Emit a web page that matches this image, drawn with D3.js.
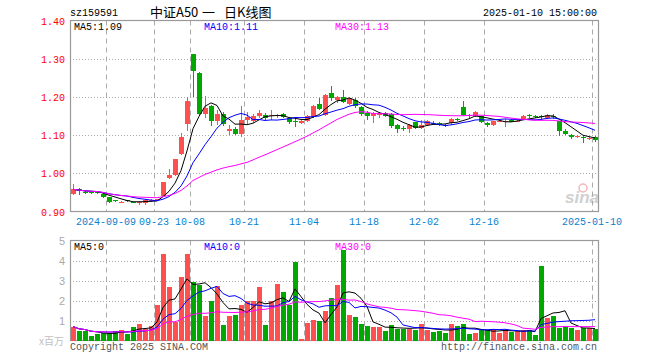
<!DOCTYPE html>
<html>
<head>
<meta charset="utf-8">
<script src="https://cdn.jsdelivr.net/npm/d3@7"></script>
<style>
  body { margin: 0; background: #fff; }
  svg text { font-family: "Liberation Mono", "DejaVu Sans Mono", monospace; }
</style>
</head>
<body>
<div id="chart"></div>
<script>
// trading days shown (one candle each)
const DATES = [
  "2024-08-30", "2024-09-02", "2024-09-03", "2024-09-04", "2024-09-05", "2024-09-06",
  "2024-09-09", "2024-09-10", "2024-09-11", "2024-09-12", "2024-09-13", "2024-09-18",
  "2024-09-19", "2024-09-20", "2024-09-23", "2024-09-24", "2024-09-25", "2024-09-26",
  "2024-09-27", "2024-09-30", "2024-10-08", "2024-10-09", "2024-10-10", "2024-10-11",
  "2024-10-14", "2024-10-15", "2024-10-16", "2024-10-17", "2024-10-18", "2024-10-21",
  "2024-10-22", "2024-10-23", "2024-10-24", "2024-10-25", "2024-10-28", "2024-10-29",
  "2024-10-30", "2024-10-31", "2024-11-01", "2024-11-04", "2024-11-05", "2024-11-06",
  "2024-11-07", "2024-11-08", "2024-11-11", "2024-11-12", "2024-11-13", "2024-11-14",
  "2024-11-15", "2024-11-18", "2024-11-19", "2024-11-20", "2024-11-21", "2024-11-22",
  "2024-11-25", "2024-11-26", "2024-11-27", "2024-11-28", "2024-11-29", "2024-12-02",
  "2024-12-03", "2024-12-04", "2024-12-05", "2024-12-06", "2024-12-09", "2024-12-10",
  "2024-12-11", "2024-12-12", "2024-12-13", "2024-12-16", "2024-12-17", "2024-12-18",
  "2024-12-19", "2024-12-20", "2024-12-23", "2024-12-24", "2024-12-25", "2024-12-26",
  "2024-12-27", "2024-12-30", "2024-12-31", "2025-01-02", "2025-01-03", "2025-01-06",
  "2025-01-07", "2025-01-08", "2025-01-09", "2025-01-10",
];

const OPEN = [
  0.945, 0.960, 0.952, 0.951, 0.951, 0.947, 0.937, 0.929, 0.924, 0.929, 0.924, 0.922,
  0.921, 0.927, 0.930, 0.941, 0.989, 0.996, 1.051, 1.130, 1.311, 1.263, 1.155, 1.175,
  1.138, 1.155, 1.112, 1.117, 1.103, 1.140, 1.137, 1.149, 1.153, 1.150, 1.150, 1.155,
  1.145, 1.137, 1.132, 1.136, 1.147, 1.182, 1.153, 1.210, 1.191, 1.200, 1.182, 1.193,
  1.174, 1.159, 1.149, 1.153, 1.157, 1.155, 1.127, 1.118, 1.115, 1.133, 1.118, 1.127,
  1.132, 1.132, 1.126, 1.131, 1.143, 1.173, 1.152, 1.149, 1.149, 1.132, 1.127, 1.136,
  1.137, 1.140, 1.138, 1.143, 1.152, 1.151, 1.150, 1.145, 1.150, 1.136, 1.112, 1.101,
  1.097, 1.094, 1.091, 1.094,
];
const HIGH = [
  0.971, 0.961, 0.954, 0.953, 0.954, 0.949, 0.938, 0.931, 0.928, 0.931, 0.926, 0.927,
  0.932, 0.932, 0.934, 0.978, 1.010, 1.038, 1.105, 1.199, 1.312, 1.265, 1.203, 1.178,
  1.165, 1.160, 1.127, 1.122, 1.177, 1.160, 1.154, 1.167, 1.157, 1.167, 1.156, 1.158,
  1.147, 1.145, 1.140, 1.153, 1.179, 1.197, 1.208, 1.228, 1.203, 1.219, 1.199, 1.196,
  1.176, 1.162, 1.160, 1.161, 1.160, 1.157, 1.130, 1.125, 1.130, 1.135, 1.140, 1.139,
  1.136, 1.134, 1.129, 1.146, 1.146, 1.189, 1.155, 1.162, 1.151, 1.134, 1.138, 1.141,
  1.141, 1.142, 1.140, 1.153, 1.154, 1.153, 1.152, 1.156, 1.155, 1.138, 1.115, 1.104,
  1.100, 1.097, 1.096, 1.098,
];
const LOW = [
  0.942, 0.944, 0.946, 0.946, 0.946, 0.935, 0.922, 0.924, 0.921, 0.925, 0.921, 0.917,
  0.917, 0.924, 0.927, 0.940, 0.985, 0.994, 1.048, 1.112, 1.201, 1.152, 1.146, 1.123,
  1.127, 1.124, 1.101, 1.100, 1.095, 1.130, 1.132, 1.144, 1.140, 1.140, 1.146, 1.144,
  1.130, 1.122, 1.128, 1.133, 1.145, 1.165, 1.150, 1.190, 1.183, 1.183, 1.180, 1.172,
  1.150, 1.140, 1.132, 1.145, 1.148, 1.118, 1.106, 1.110, 1.105, 1.116, 1.115, 1.125,
  1.128, 1.124, 1.120, 1.126, 1.137, 1.151, 1.146, 1.147, 1.131, 1.122, 1.123, 1.133,
  1.120, 1.133, 1.135, 1.141, 1.146, 1.146, 1.140, 1.143, 1.143, 1.098, 1.100, 1.090,
  1.093, 1.079, 1.087, 1.082,
];
const CLOSE = [
  0.958, 0.954, 0.950, 0.950, 0.949, 0.938, 0.926, 0.927, 0.926, 0.927, 0.922, 0.925,
  0.930, 0.929, 0.932, 0.978, 0.995, 1.037, 1.094, 1.190, 1.268, 1.155, 1.171, 1.138,
  1.156, 1.130, 1.115, 1.104, 1.140, 1.147, 1.150, 1.158, 1.145, 1.152, 1.152, 1.147,
  1.134, 1.135, 1.137, 1.151, 1.177, 1.168, 1.206, 1.197, 1.201, 1.186, 1.197, 1.176,
  1.156, 1.149, 1.157, 1.158, 1.151, 1.125, 1.116, 1.117, 1.127, 1.119, 1.127, 1.136,
  1.131, 1.127, 1.125, 1.143, 1.142, 1.153, 1.151, 1.160, 1.135, 1.127, 1.136, 1.138,
  1.138, 1.134, 1.138, 1.151, 1.151, 1.150, 1.148, 1.153, 1.149, 1.110, 1.103, 1.094,
  1.098, 1.093, 1.092, 1.086,
];
// volume, millions
const VOLUME = [
  0.70, 0.47, 0.47, 0.22, 0.32, 0.40, 0.38, 0.47, 0.55, 0.32, 0.67, 0.85,
  0.60, 0.72, 1.77, 4.31, 2.68, 0.92, 3.18, 4.31, 2.92, 2.80, 1.22, 1.98,
  2.72, 0.77, 1.22, 1.30, 1.77, 1.98, 1.98, 2.67, 0.77, 1.98, 2.82, 2.42,
  1.77, 3.92, 0.05, 0.88, 1.02, 0.98, 1.48, 2.13, 2.77, 4.52, 1.27, 1.17,
  0.82, 0.72, 0.67, 0.67, 0.47, 0.77, 0.60, 0.60, 0.60, 0.52, 0.85, 0.52,
  0.42, 0.47, 0.37, 0.82, 0.72, 0.85, 0.32, 0.37, 0.52, 0.52, 0.60, 0.37,
  0.52, 0.42, 0.47, 0.52, 0.52, 0.27, 3.72, 1.15, 1.22, 0.65, 0.70, 0.65,
  0.52, 0.62, 0.62, 0.57,
];

const TICK_DATES = [
  "2024-09-09", "2024-09-23", "2024-10-08", "2024-10-21", "2024-11-04",
  "2024-11-18", "2024-12-02", "2024-12-16", "2025-01-10",
];
const TICK_LABELS = [
  "2024-09-09", "09-23", "10-08", "10-21", "11-04", "11-18", "12-02", "12-16", "2025-01-10",
];
const PRICE_TICKS = [0.9, 1.0, 1.1, 1.2, 1.3, 1.4];
const VOLUME_TICKS = [1, 2, 3, 4, 5];
const MA_PERIODS = [5, 10, 30];
const TITLE_PARTS = ["中证A50", "一", "日K线图"];

const WIDTH = 660;
const HEIGHT = 360;
const PLOT_LEFT = 70;
const PLOT_RIGHT = 598;
const PRICE_TOP = 20.5;
const PRICE_BOTTOM = 211.5;
const VOL_TOP = 240.5;
const VOL_BOTTOM = 340.5;
const BODY_WIDTH = 5;

const UP_COLOR = "#ff5050";
const DOWN_COLOR = "#00a800";
const GRID_COLOR = "#aaaaaa";
const FRAME_COLOR = "#999999";
const MA_COLORS = ["#000000", "#0000ff", "#ff00ff"];

function movingAverage(values, period) {
  return values.map((_, i) => {
    const start = Math.max(0, i - period + 1);
    return d3.mean(values.slice(start, i + 1));
  });
}

const candles = DATES.map((date, i) => ({
  date,
  open: OPEN[i],
  high: HIGH[i],
  low: LOW[i],
  close: CLOSE[i],
  volume: VOLUME[i],
  up: CLOSE[i] >= OPEN[i],
}));

const svg = d3
  .select("#chart")
  .append("svg")
  .attr("width", WIDTH)
  .attr("height", HEIGHT)
  .style("display", "block");

const x = d3.scaleBand().domain(DATES).range([PLOT_LEFT, PLOT_RIGHT]).padding(0);
const candleCenter = (d) => x(d) + x.bandwidth() / 2;

const yPrice = d3.scaleLinear().domain([0.9, 1.4]).range([PRICE_BOTTOM, PRICE_TOP]);
const yVol = d3.scaleLinear().domain([0, 5]).range([VOL_BOTTOM, VOL_TOP]);

// header
svg.append("text")
  .attr("x", PLOT_LEFT)
  .attr("y", 16)
  .attr("font-size", 10)
  .attr("fill", "#000")
  .text("sz159591");
const titleX = [150, 202, 224];
svg.append("text")
  .attr("y", 17)
  .attr("font-size", 13)
  .style("font-family", "'Noto Sans CJK SC', sans-serif")
  .attr("fill", "#000")
  .selectAll("tspan")
  .data(TITLE_PARTS)
  .join("tspan")
  .attr("x", (d, i) => titleX[i])
  .text((d) => d);
svg.append("text")
  .attr("x", PLOT_RIGHT - 1)
  .attr("y", 16)
  .attr("text-anchor", "end")
  .attr("font-size", 10)
  .attr("fill", "#000")
  .text("2025-01-10 15:00:00");

// watermark
const mark = svg.append("g").attr("class", "watermark");
mark.append("circle")
  .attr("cx", 583).attr("cy", 188).attr("r", 4)
  .attr("fill", "none").attr("stroke", "#f2b8b8").attr("stroke-width", 1.5);
mark.append("text")
  .attr("x", 565).attr("y", 203)
  .attr("font-size", 17)
  .attr("font-weight", "bold")
  .attr("font-style", "italic")
  .style("font-family", "'Liberation Sans', sans-serif")
  .attr("fill", "#d0d0d0")
  .text("sina");

function drawGrid(panelTop, panelBottom, yScale, ticks) {
  const grid = svg.append("g").attr("class", "grid");
  grid.selectAll("line.h")
    .data(ticks.filter((t) => yScale(t) > panelTop + 1 && yScale(t) < panelBottom - 1))
    .join("line")
    .attr("class", "h")
    .attr("x1", PLOT_LEFT)
    .attr("x2", PLOT_RIGHT)
    .attr("y1", (t) => Math.round(yScale(t)) + 0.5)
    .attr("y2", (t) => Math.round(yScale(t)) + 0.5)
    .attr("stroke", GRID_COLOR)
    .attr("stroke-dasharray", "1,2");
  grid.selectAll("line.v")
    .data(TICK_DATES)
    .join("line")
    .attr("class", "v")
    .attr("x1", (d) => x(d) + 0.5)
    .attr("x2", (d) => x(d) + 0.5)
    .attr("y1", panelTop)
    .attr("y2", panelBottom)
    .attr("stroke", GRID_COLOR)
    .attr("stroke-dasharray", "5,4");
  svg.append("rect")
    .attr("x", PLOT_LEFT + 0.5)
    .attr("y", panelTop)
    .attr("width", PLOT_RIGHT - PLOT_LEFT)
    .attr("height", panelBottom - panelTop)
    .attr("fill", "none")
    .attr("stroke", FRAME_COLOR)
    .attr("stroke-width", 1.2);
}

drawGrid(PRICE_TOP, PRICE_BOTTOM, yPrice, PRICE_TICKS);
drawGrid(VOL_TOP, VOL_BOTTOM, yVol, VOLUME_TICKS);

// price axis labels
svg.append("g")
  .selectAll("text")
  .data(PRICE_TICKS)
  .join("text")
  .attr("x", 65)
  .attr("y", (t) => yPrice(t) + 4)
  .attr("text-anchor", "end")
  .attr("font-size", 10)
  .attr("fill", "#ff0000")
  .text((t) => t.toFixed(2));

// date labels
svg.append("g")
  .selectAll("text")
  .data(TICK_DATES)
  .join("text")
  .attr("x", (d) => x(d))
  .attr("y", 225)
  .attr("text-anchor", "middle")
  .attr("font-size", 10)
  .attr("fill", "#0a7fd0")
  .text((d, i) => TICK_LABELS[i]);

// volume axis labels
svg.append("g")
  .selectAll("text")
  .data(VOLUME_TICKS)
  .join("text")
  .attr("x", 65)
  .attr("y", (t) => yVol(t) + 4)
  .attr("text-anchor", "end")
  .attr("font-size", 11)
  .style("font-family", "'Liberation Sans', sans-serif")
  .attr("fill", "#aaaaaa")
  .text((t) => t);

svg.append("text")
  .attr("x", 64)
  .attr("y", 345)
  .attr("text-anchor", "end")
  .attr("font-size", 10)
  .style("font-family", "'Noto Sans CJK SC', sans-serif")
  .attr("fill", "#c0c0c0")
  .text("x百万");

// candles
const candleGroup = svg.append("g").attr("class", "candles").attr("shape-rendering", "crispEdges");
candleGroup.selectAll("line")
  .data(candles)
  .join("line")
  .attr("x1", (d) => Math.floor(candleCenter(d.date)) + 0.5)
  .attr("x2", (d) => Math.floor(candleCenter(d.date)) + 0.5)
  .attr("y1", (d) => yPrice(d.high))
  .attr("y2", (d) => yPrice(d.low))
  .attr("stroke", (d) => (d.up ? UP_COLOR : DOWN_COLOR));
candleGroup.selectAll("rect")
  .data(candles)
  .join("rect")
  .attr("x", (d) => Math.floor(candleCenter(d.date)) - 2)
  .attr("y", (d) => yPrice(Math.max(d.open, d.close)))
  .attr("width", BODY_WIDTH)
  .attr("height", (d) => Math.max(1, Math.abs(yPrice(d.open) - yPrice(d.close))))
  .attr("fill", (d) => (d.up ? UP_COLOR : DOWN_COLOR));

// volume bars
svg.append("g")
  .attr("class", "volume")
  .attr("shape-rendering", "crispEdges")
  .selectAll("rect")
  .data(candles)
  .join("rect")
  .attr("x", (d) => Math.floor(candleCenter(d.date)) - 2)
  .attr("y", (d) => Math.min(yVol(d.volume), VOL_BOTTOM - 2))
  .attr("width", BODY_WIDTH)
  .attr("height", (d) => Math.max(2, VOL_BOTTOM - yVol(d.volume)))
  .attr("fill", (d) => (d.up ? UP_COLOR : DOWN_COLOR));

// moving averages
function drawAverages(values, yScale) {
  MA_PERIODS.forEach((period, k) => {
    const ma = movingAverage(values, period);
    const line = d3.line()
      .x((_, i) => candleCenter(DATES[i]))
      .y((v) => yScale(v));
    svg.append("path")
      .datum(ma)
      .attr("d", line)
      .attr("fill", "none")
      .attr("stroke", MA_COLORS[k])
      .attr("stroke-width", 1);
  });
}
drawAverages(CLOSE, yPrice);
drawAverages(VOLUME, yVol);

// legends
const lastMa = MA_PERIODS.map((p) => d3.mean(CLOSE.slice(-p)));
const legendX = [74, 204, 335];
MA_PERIODS.forEach((p, k) => {
  svg.append("text")
    .attr("x", legendX[k])
    .attr("y", 30)
    .attr("font-size", 10)
    .attr("fill", MA_COLORS[k])
    .text(`MA${p}:${lastMa[k].toFixed(2)}`);
  svg.append("text")
    .attr("x", legendX[k])
    .attr("y", 250)
    .attr("font-size", 10)
    .attr("fill", MA_COLORS[k])
    .text(`MA${p}:0`);
});

// footer
svg.append("text")
  .attr("x", PLOT_LEFT)
  .attr("y", 350)
  .attr("font-size", 10)
  .attr("fill", "#555")
  .text("Copyright 2025 SINA.COM");
svg.append("text")
  .attr("x", PLOT_RIGHT - 1)
  .attr("y", 350)
  .attr("text-anchor", "end")
  .attr("font-size", 10)
  .attr("fill", "#555")
  .text("http://finance.sina.com.cn");
</script>
</body>
</html>
